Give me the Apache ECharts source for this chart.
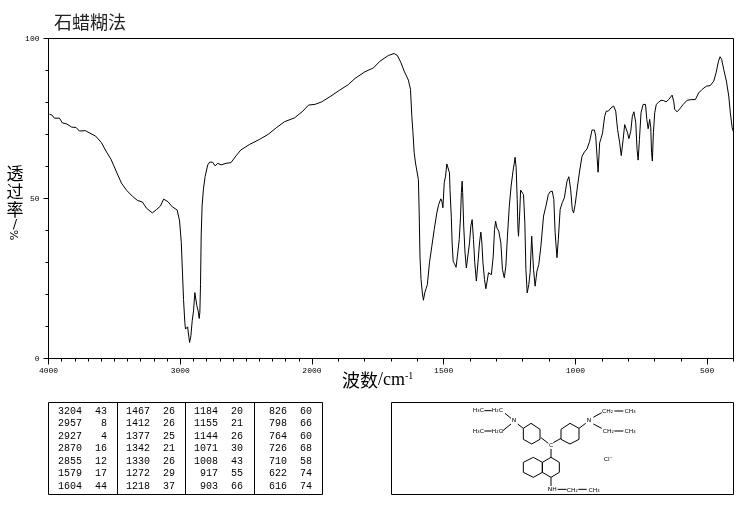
<!DOCTYPE html>
<html><head><meta charset="utf-8">
<style>html,body{margin:0;padding:0;background:#fff}#c{width:738px;height:510px}</style>
<script src="https://cdn.jsdelivr.net/npm/echarts@6/dist/echarts.min.js"></script>
</head><body><div id="c"></div>
<script>
const wavenumbers=[3992,3975,3955,3917,3894,3861,3824,3791,3766,3720,3685,3642,3599,3559,3526,3484,3446,3408,3363,3325,3287,3257,3212,3181,3151,3126,3113,3093,3060,3023,3018,3005,2992,2982,2975,2965,2960,2944,2934,2929,2919,2909,2899,2889,2882,2874,2864,2856,2851,2846,2841,2834,2824,2811,2791,2776,2753,2735,2715,2690,2652,2615,2577,2539,2473,2397,2334,2271,2208,2132,2069,2026,1989,1963,1932,1894,1862,1837,1799,1767,1742,1710,1688,1676,1663,1650,1634,1626,1621,1617,1612,1607,1600,1596,1593,1590,1586,1581,1577,1572,1567,1562,1554,1545,1536,1526,1519,1511,1507,1503,1498,1493,1488,1482,1478,1476,1471,1468,1464,1459,1453,1448,1441,1436,1433,1430,1428,1424,1419,1414,1408,1402,1397,1392,1387,1382,1376,1370,1364,1359,1355,1351,1345,1340,1335,1330,1324,1319,1312,1307,1303,1298,1291,1283,1277,1270,1264,1258,1251,1244,1237,1232,1229,1225,1221,1218,1216,1212,1208,1203,1197,1192,1188,1183,1177,1172,1166,1163,1159,1153,1146,1139,1131,1121,1112,1103,1096,1088,1082,1077,1070,1065,1058,1050,1042,1032,1025,1018,1012,1007,1001,992,984,975,966,956,946,937,928,923,918,914,908,903,897,889,883,875,865,855,847,840,832,826,819,813,807,802,797,790,784,778,771,766,762,757,751,743,734,729,724,718,714,711,708,704,699,693,684,675,665,656,646,633,627,623,614,604,591,576,561,545,532,519,503,488,475,466,457,451,445,437,427,418,412,405,401];
const transmittance=[76.3,76.1,75.1,75.1,73.6,73.3,72.3,72.2,71.1,71.2,70.4,69.5,67.5,64.5,62.3,58.3,54.8,52.6,50.7,49.4,48.9,47.0,45.5,46.5,47.6,49.8,50,49,47.4,46.4,46.1,43,36.3,25.8,18.5,11.2,9.2,9.9,6.6,5.0,7.1,11.8,14.9,20.6,20.8,16.5,14.9,12.5,14.4,23.2,38.3,47.7,52.9,56.9,60.5,61.4,61.3,60.2,61,60.5,61,61.2,63.3,65.2,66.9,68.5,70,72.1,74,75.2,77.3,79.2,79.4,80.2,81.8,83.9,85.6,87.5,89.6,90.8,92.9,94.7,95.3,94.7,92.6,89.8,87,84.1,75.7,71,64.3,61.1,60.6,55.9,45.5,32,24.7,20.5,18.2,20.5,21.8,23.1,29.9,35.1,40.3,45.5,48.1,49.9,49.2,47.1,54.9,57,60.8,60.6,58,52.8,44,36.1,30.4,29.6,28.5,32,37.2,44.5,51.8,55.4,51.8,41.4,33,28.3,27.8,36.1,41.4,43.4,37.2,29.9,24.2,29.9,36.1,39.5,36.1,29.9,24.7,21.8,24.2,26.8,27,26.2,32,40.3,42.9,40.8,39.8,36.1,27.8,25.2,28.9,38.2,47.6,53.9,58.5,61.1,62.9,59.6,49.7,40.3,38.2,44.5,52.6,52.8,51.2,42.4,27.8,20.5,23.1,26.8,38.2,38.2,27.8,22.6,27.3,29.4,35.1,44.5,47.6,51.2,52.1,52.3,49.7,39.3,31.5,37.2,46.6,48.7,50.2,55.4,56.8,52.8,46.6,45.5,48.1,53.9,58.6,63.2,64.5,65.5,67.9,71.4,71.4,69.5,63.2,58.2,67.4,68.7,70.5,75.7,77.3,77.3,78.3,78.9,77.3,71.6,67.4,63.4,68.4,73.1,72.8,70.5,68.7,71,75.7,77.1,73.7,65.3,62,68.4,76.8,79.4,79.4,74.7,71.8,74.7,72.1,64.3,61.7,70.5,76.8,79.4,80.1,80.7,80.6,80.2,80.9,82.3,80.4,77.8,77.1,78,79.4,80.7,80.9,80.9,83,84.1,85.1,85.3,86.7,89.3,92.9,94.3,93.5,90.3,86.7,82,76.8,72.1,71];
const majorTicks=[4000,3000,2000,1500,1000,500];
const peakWn=[[3204,2957,2927,2870,2855,1579,1604],[1467,1412,1377,1342,1330,1272,1218],[1184,1155,1144,1071,1008,917,903],[826,798,764,726,710,622,616]];
const peakT=[[43,8,4,16,12,17,44],[26,26,25,21,26,29,37],[20,21,26,30,43,55,66],[60,66,60,68,58,74,74]];
const titleText='石蜡糊法';

const toU=w=>w>=2000?(4000-w)/2:1000+(2000-w);
const fromU=u=>u<=1000?4000-2*u:2000-(u-1000);
const minor=[];for(let w=4000;w>=400;w-=100)minor.push(toU(w));
const major=majorTicks.map(toU);
const mono='"Liberation Mono",monospace';
const cjk='"Noto Sans CJK SC","Noto Sans CJK JP",sans-serif';
const K='#000';
const g=[];
const rect=(x,y,w,h)=>g.push({type:'rect',shape:{x,y,width:w,height:h},style:{fill:'none',stroke:K,lineWidth:1},silent:true});
const ln=(a,b,c,d,lw)=>({type:'line',shape:{x1:a,y1:b,x2:c,y2:d},style:{stroke:K,lineWidth:lw||1},silent:true});
// peak table
rect(48.5,402.5,274,92);
[117.5,185.5,254.5].forEach(x=>g.push(ln(x,402.5,x,494.5)));
const rowY=[411,423.5,436,448.5,461,473.5,486];
const wnR=[82,150,218,287],tR=[107,175,243,312];
peakWn.forEach((col,i)=>col.forEach((v,j)=>{
  g.push({type:'text',x:wnR[i],y:rowY[j],style:{text:String(v),font:'10px '+mono,fill:K,align:'right',verticalAlign:'middle'}});
  g.push({type:'text',x:tR[i],y:rowY[j],style:{text:String(peakT[i][j]),font:'10px '+mono,fill:K,align:'right',verticalAlign:'middle'}});
}));
// structure box
rect(391.5,402.5,342,92);
const mol=[];
const poly=p=>{for(let i=0;i<p.length;i++){const a=p[i],b=p[(i+1)%p.length];mol.push(ln(a[0],a[1],b[0],b[1],3));}};
poly([[175,85],[198,70],[225,88],[225,118],[200,132],[175,118]]);
poly([[288,88],[315,70],[342,85],[342,118],[315,132],[288,118]]);
poly([[258,172],[283,187],[283,217],[258,232],[232,217],[232,187]]);
poly([[232,187],[205,172],[175,187],[175,217],[205,232],[232,217]]);
[[228,113,250,130],[265,128,288,115],[258,147,258,172],[258,232,258,258],[175,85,158,72],[342,85,362,70],
 [120,40,138,55],[110,95,138,72],[58,32,80,32],[58,93,80,93],[385,52,410,38],[385,72,410,85],[448,33,475,33],[448,93,475,93],
 [278,268,305,268],[340,268,365,268]].forEach(s=>mol.push(ln(s[0],s[1],s[2],s[3],3)));
[['H\u2083C',40,32],['H\u2082C',97,32],['H\u2083C',40,93],['H\u2082C',97,93],['N',147,62],['N',372,62],['CH\u2082',428,33],['CH\u2083',495,33],
 ['CH\u2082',430,95],['CH\u2083',495,95],['C',258,137],['Cl\u207B',430,178],['NH',262,268],['CH\u2082',322,270],['CH\u2083',387,270]]
 .forEach(t=>mol.push({type:'text',x:t[1],y:t[2],style:{text:t[0],font:'18px "DejaVu Sans",sans-serif',fill:K,align:'center',verticalAlign:'middle'}}));
g.push({type:'group',x:465,y:400,scaleX:1/3,scaleY:1/3,children:mol});
// axis titles
g.push({type:'text',x:342,y:380,style:{rich:{a:{font:'18px '+cjk,fill:K},b:{font:'18px "Liberation Serif",serif',fill:K},s:{font:'10px "Liberation Serif",serif',fill:K,verticalAlign:'top',padding:[0,0,8,0]}},text:'{a|波数}{b|/cm}{s|-1}',verticalAlign:'middle'}});
g.push({type:'text',x:15,y:165,style:{text:'透\n过\n率',font:'17px '+cjk,fill:K,align:'center',verticalAlign:'top',lineHeight:18}});
g.push({type:'text',x:15,y:225,style:{text:'/',font:'13px "DejaVu Sans",sans-serif',fill:K,align:'center',verticalAlign:'middle'}});
g.push({type:'text',x:15,y:235,rotation:Math.PI/2,style:{text:'%',font:'11px "DejaVu Sans",sans-serif',fill:K,align:'center',verticalAlign:'middle'}});

const chart=echarts.init(document.getElementById('c'),null,{renderer:'canvas'});
chart.setOption({
  animation:false,backgroundColor:'#fff',
  title:{text:titleText,left:49,top:8,textStyle:{fontFamily:cjk,fontSize:18,fontWeight:'normal',color:'#222'}},
  grid:{left:48.5,top:38.5,width:685,height:320,show:true,borderColor:K,borderWidth:1,backgroundColor:'transparent'},
  xAxis:[{type:'value',min:0,max:2600,splitLine:{show:false},
    axisLine:{show:true,onZero:false,lineStyle:{color:K,width:1}},
    axisTick:{show:true,length:6,lineStyle:{color:K,width:1},customValues:major},
    axisLabel:{show:true,customValues:major,formatter:u=>String(Math.round(fromU(u))),color:K,fontFamily:'Liberation Mono',fontSize:8,margin:8,hideOverlap:false,showMinLabel:true}},
   {type:'value',position:'bottom',min:0,max:2600,splitLine:{show:false},
    axisLine:{show:false},axisLabel:{show:false},
    axisTick:{show:true,length:3,lineStyle:{color:K,width:1},customValues:minor}}],
  yAxis:{type:'value',min:0,max:100,interval:50,splitLine:{show:false},minorSplitLine:{show:false},
    axisLine:{show:true,lineStyle:{color:K,width:1}},
    axisTick:{show:true,length:5,lineStyle:{color:K,width:1}},
    minorTick:{show:true,splitNumber:5,length:3,lineStyle:{color:K,width:1}},
    axisLabel:{color:K,fontFamily:'Liberation Mono',fontSize:8,margin:9}},
  series:[{type:'line',xAxisIndex:0,data:wavenumbers.map((w,i)=>[toU(w),transmittance[i]]),showSymbol:false,symbol:'none',
    lineStyle:{color:K,width:1},smooth:false,silent:true}],
  graphic:g
});
</script></body></html>
